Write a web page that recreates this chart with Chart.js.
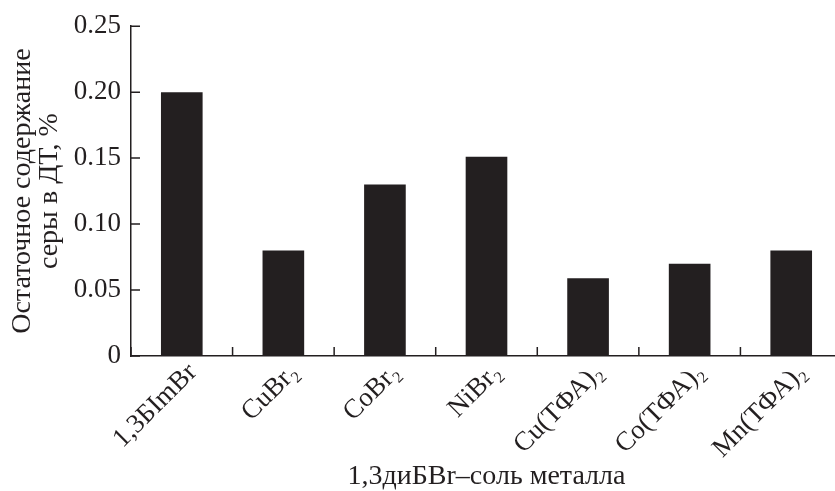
<!DOCTYPE html>
<html>
<head>
<meta charset="utf-8">
<script src="https://cdn.jsdelivr.net/npm/chart.js@4/dist/chart.umd.min.js"></script>
<style>
  html, body { margin: 0; padding: 0; background: #ffffff; overflow: hidden; }
  #wrap { width: 842px; height: 491px; }
</style>
</head>
<body>
<div id="wrap"><canvas id="c" width="842" height="491"></canvas></div>
<script>
// Residual sulfur content in diesel fuel for each catalyst system
const categories = ['1,3БImBr', 'CuBr₂', 'CoBr₂', 'NiBr₂', 'Cu(ТФА)₂', 'Co(ТФА)₂', 'Mn(ТФА)₂'];
const sulfurValues = [0.20, 0.08, 0.13, 0.151, 0.059, 0.07, 0.08];
const yTickValues = [0, 0.05, 0.10, 0.15, 0.20, 0.25];
const yTitleLines = ['Остаточное содержание', 'серы в ДТ, %'];
const xTitle = '1,3диБВr\u2013соль металла';

const INK = '#231f20';
const FONT = "'Liberation Serif', 'Times New Roman', serif";
const TICK_LEN = 9;

// Tick marks drawn on the inside of both axes
const innerTicks = {
  id: 'innerTicks',
  afterDatasetsDraw(chart) {
    const { ctx, scales: { x, y } } = chart;
    ctx.save();
    ctx.strokeStyle = INK;
    ctx.lineWidth = 1.5;
    ctx.beginPath();
    y.ticks.forEach(t => {
      const py = y.getPixelForValue(t.value);
      ctx.moveTo(x.left, py);
      ctx.lineTo(x.left + TICK_LEN, py);
    });
    for (let i = 0; i <= categories.length; i++) {
      const px = x.getPixelForValue(i - 0.5);
      ctx.moveTo(px, y.bottom);
      ctx.lineTo(px, y.bottom - TICK_LEN);
    }
    ctx.stroke();
    ctx.restore();
  }
};

new Chart(document.getElementById('c'), {
  type: 'bar',
  data: {
    labels: categories,
    datasets: [{
      data: sulfurValues,
      backgroundColor: INK,
      borderWidth: 0,
      barPercentage: 0.41,
      categoryPercentage: 1.0
    }]
  },
  options: {
    responsive: false,
    animation: false,
    devicePixelRatio: 1,
    layout: { padding: { top: 25, left: 0, right: 0, bottom: 0 } },
    plugins: { legend: { display: false }, tooltip: { enabled: false } },
    scales: {
      x: {
        offset: true,
        grid: { display: false, drawTicks: false },
        border: { display: true, color: INK, width: 1.5 },
        ticks: {
          color: INK,
          font: { family: FONT, size: 27 },
          minRotation: 45,
          maxRotation: 45,
          padding: 1,
          labelOffset: 11,
          autoSkip: false
        },
        title: {
          display: true,
          text: xTitle,
          color: INK,
          font: { family: FONT, size: 28, lineHeight: 1.0 },
          padding: { top: 0, bottom: 0 }
        },
        afterFit(scale) {
          scale.height = 135;
          scale.paddingLeft = 0;
          scale.paddingRight = 0;
        }
      },
      y: {
        min: 0,
        max: 0.25,
        grid: { display: false, drawTicks: false },
        border: { display: true, color: INK, width: 1.5 },
        afterBuildTicks(scale) {
          scale.ticks = yTickValues.map(v => ({ value: v }));
        },
        ticks: {
          color: INK,
          font: { family: FONT, size: 27 },
          padding: 10,
          callback: v => (v === 0 ? '0' : v.toFixed(2))
        },
        title: {
          display: true,
          text: yTitleLines,
          color: INK,
          font: { family: FONT, size: 28, lineHeight: 0.965 },
          padding: { top: 9, bottom: 0 }
        },
        afterFit(scale) {
          scale.width = 131;
        }
      }
    }
  },
  plugins: [innerTicks]
});
</script>
</body>
</html>
